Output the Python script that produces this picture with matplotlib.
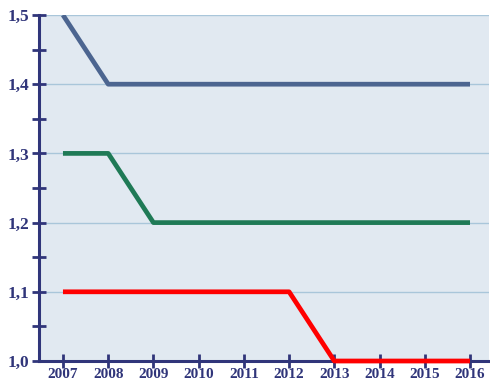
import numpy as np
import matplotlib.pyplot as plt
from matplotlib.ticker import MultipleLocator

years = [2007, 2008, 2009, 2010, 2011, 2012, 2013, 2014, 2015, 2016]
series_top = [1.5, 1.4, 1.4, 1.4, 1.4, 1.4, 1.4, 1.4, 1.4, 1.4]
series_mid = [1.3, 1.3, 1.2, 1.2, 1.2, 1.2, 1.2, 1.2, 1.2, 1.2]
series_low = [1.1, 1.1, 1.1, 1.1, 1.1, 1.1, 1.0, 1.0, 1.0, 1.0]
y_labels = ['1,0', '1,1', '1,2', '1,3', '1,4', '1,5']

navy = '#30357a'
plt.rcParams['font.family'] = ['Liberation Serif', 'DejaVu Serif']

fig = plt.figure(figsize=(4.9, 3.83), dpi=100)
ax = fig.add_axes([39/490, 22/383, 450/490, 346/383])
ax.set_facecolor('#e1e9f1')

ax.plot(years, series_top, color='#4c6590', lw=3.4, solid_capstyle='butt', zorder=3)
ax.plot(years, series_mid, color='#1f7a56', lw=3.4, solid_capstyle='butt', zorder=3)
ax.plot(years, series_low, color='#ff0000', lw=3.4, solid_capstyle='butt', zorder=3, clip_on=False)

ax.set_xlim(2006.47, 2016.42)
ax.set_ylim(1.0, 1.5)
ax.set_xticks(years)
ax.set_xticklabels([str(y) for y in years])
ax.set_yticks(np.arange(1.0, 1.51, 0.1))
ax.set_yticklabels(y_labels)
ax.yaxis.set_minor_locator(MultipleLocator(0.05))
ax.grid(axis='y', which='major', color='#a9c6da', lw=1)
ax.set_axisbelow(True)

for s in ['top', 'right']:
    ax.spines[s].set_visible(False)
for s in ['left', 'bottom']:
    ax.spines[s].set_color(navy)
    ax.spines[s].set_linewidth(2.2)

ax.tick_params(axis='both', which='both', direction='inout', color=navy, width=2)
ax.tick_params(axis='y', which='major', length=10, pad=2)
ax.tick_params(axis='y', which='minor', length=10)
ax.tick_params(axis='x', length=10, pad=0)
for lab in ax.get_xticklabels():
    lab.set_fontweight('bold')
    lab.set_color(navy)
    lab.set_fontsize(11)
for lab in ax.get_yticklabels():
    lab.set_fontweight('bold')
    lab.set_color(navy)
    lab.set_fontsize(12.5)

fig.savefig('out.png', dpi=100)
